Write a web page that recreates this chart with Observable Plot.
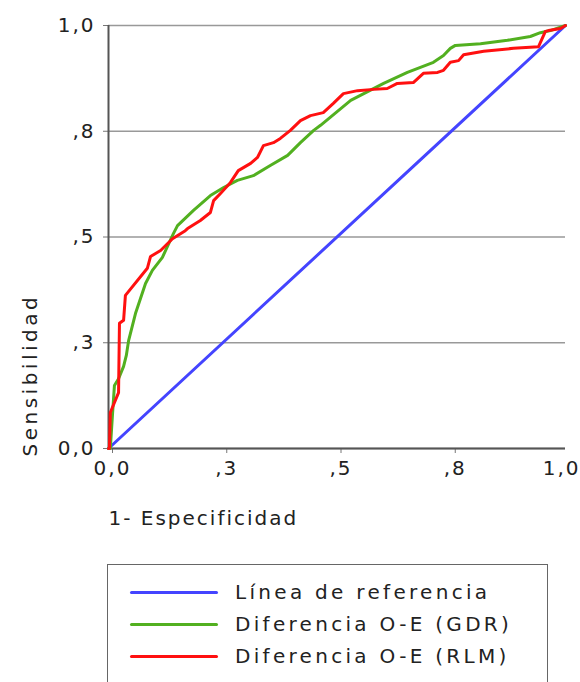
<!DOCTYPE html>
<html>
<head>
<meta charset="utf-8">
<script src="https://cdn.jsdelivr.net/npm/d3@7"></script>
<script src="https://cdn.jsdelivr.net/npm/@observablehq/plot@0.6"></script>
<style>
  body { margin: 0; background: #fff; font-family: "DejaVu Sans", sans-serif; color: #222; }
  #chart svg text { letter-spacing: 2px; }
  #chart svg text.ytitle { letter-spacing: 3.5px; }
  #legend {
    position: absolute; left: 107px; top: 564px; width: 441px; height: 130px;
    border: 1.5px solid #666; box-sizing: border-box; padding-top: 11px;
    font-family: "DejaVu Sans", sans-serif; font-size: 20px; letter-spacing: 3.3px; color: #222;
  }
  .row { height: 32px; display: flex; align-items: center; }
  .sw { width: 88px; height: 3px; margin-left: 22px; margin-right: 17px; border-radius: 2px; }
</style>
</head>
<body>
<div id="chart"></div>
<div id="legend"></div>
<script>
const tickValues = [0, 0.25, 0.5, 0.75, 1];
const tickLabels = ["0,0", ",3", ",5", ",8", "1,0"];

const refX = [0, 1];
const refY = [0, 1];

const gdrX = [0.000, 0.004, 0.009, 0.013, 0.022, 0.033, 0.039, 0.044, 0.059, 0.081, 0.096, 0.118, 0.142, 0.151, 0.186, 0.223, 0.252, 0.282, 0.317, 0.354, 0.392, 0.420, 0.449, 0.464, 0.530, 0.602, 0.654, 0.711, 0.733, 0.748, 0.759, 0.814, 0.873, 0.923, 0.945, 0.967, 1.000];
const gdrY = [0.000, 0.000, 0.085, 0.149, 0.165, 0.194, 0.220, 0.255, 0.319, 0.390, 0.421, 0.452, 0.508, 0.527, 0.563, 0.598, 0.617, 0.634, 0.645, 0.669, 0.693, 0.723, 0.752, 0.764, 0.823, 0.863, 0.889, 0.913, 0.929, 0.946, 0.953, 0.957, 0.965, 0.974, 0.983, 0.988, 1.000];

const rlmX = [0.000, 0.002, 0.004, 0.022, 0.024, 0.033, 0.037, 0.085, 0.092, 0.114, 0.140, 0.168, 0.173, 0.201, 0.223, 0.230, 0.245, 0.267, 0.284, 0.311, 0.326, 0.339, 0.361, 0.376, 0.398, 0.420, 0.442, 0.470, 0.492, 0.514, 0.545, 0.580, 0.610, 0.632, 0.667, 0.689, 0.720, 0.733, 0.748, 0.766, 0.777, 0.821, 0.886, 0.941, 0.956, 0.963, 0.989, 1.000];
const rlmY = [0.000, 0.000, 0.085, 0.132, 0.296, 0.303, 0.362, 0.426, 0.454, 0.468, 0.496, 0.515, 0.520, 0.539, 0.558, 0.586, 0.603, 0.629, 0.657, 0.674, 0.688, 0.716, 0.723, 0.733, 0.752, 0.775, 0.787, 0.794, 0.816, 0.839, 0.846, 0.849, 0.851, 0.863, 0.865, 0.887, 0.889, 0.894, 0.913, 0.917, 0.931, 0.939, 0.946, 0.950, 0.986, 0.988, 0.993, 1.000];

const seriesNames = ["Línea de referencia", "Diferencia O-E (GDR)", "Diferencia O-E (RLM)"];
const seriesColors = ["#4444ff", "#52b020", "#ff1010"];
const yTitle = "Sensibilidad";
const xTitle = "1- Especificidad";

const fmt = d => tickLabels[tickValues.indexOf(d)];

const chart = Plot.plot({
  width: 580,
  height: 545,
  marginLeft: 108,
  marginRight: 15,
  marginTop: 25,
  marginBottom: 97,
  x: {domain: [0, 1]},
  y: {domain: [0, 1]},
  style: {fontFamily: "DejaVu Sans, sans-serif", fontSize: "20px", color: "#222", background: "#fff"},
  marks: [
    Plot.gridY(tickValues, {stroke: "#999", strokeOpacity: 1, strokeWidth: 1.3}),
    Plot.axisY(tickValues, {tickFormat: fmt, tickSize: 5, tickPadding: 8, label: null, stroke: "#777"}),
    Plot.axisX(tickValues.slice(0, 4), {tickFormat: fmt, tickSize: 5, tickPadding: 7, label: null, stroke: "#777", dx: 4}),
    Plot.axisX(tickValues.slice(4), {tickFormat: fmt, tickSize: 5, tickPadding: 7, label: null, stroke: "#777", textAnchor: "end", dx: 15}),
    Plot.ruleX([0], {stroke: "#555", strokeWidth: 2, y1: 0, y2: 1}),
    Plot.ruleY([0], {stroke: "#555", strokeWidth: 2, x1: 0, x2: 1}),
    Plot.line(refX, {x: refX, y: refY, stroke: seriesColors[0], strokeWidth: 3}),
    Plot.line(gdrX, {x: gdrX, y: gdrY, stroke: seriesColors[1], strokeWidth: 3}),
    Plot.line(rlmX, {x: rlmX, y: rlmY, stroke: seriesColors[2], strokeWidth: 3}),
    Plot.text([yTitle], {frameAnchor: "bottom-left", text: d => d, rotate: -90, textAnchor: "start", lineAnchor: "middle", dx: -78, dy: 8, fill: "#222", fontSize: 20, className: "ytitle"}),
    Plot.text([xTitle], {frameAnchor: "bottom-left", text: d => d, textAnchor: "start", lineAnchor: "middle", dx: 0, dy: 70, fill: "#222", fontSize: 20})
  ]
});
document.getElementById("chart").appendChild(chart);
chart.querySelectorAll("g.ytitle text, text.ytitle").forEach(t => t.style.letterSpacing = "3.5px");

const legend = document.getElementById("legend");
seriesNames.forEach((name, i) => {
  const row = document.createElement("div");
  row.className = "row";
  const sw = document.createElement("div");
  sw.className = "sw";
  sw.style.background = seriesColors[i];
  const label = document.createElement("span");
  label.textContent = name;
  row.appendChild(sw);
  row.appendChild(label);
  legend.appendChild(row);
});
</script>
</body>
</html>
